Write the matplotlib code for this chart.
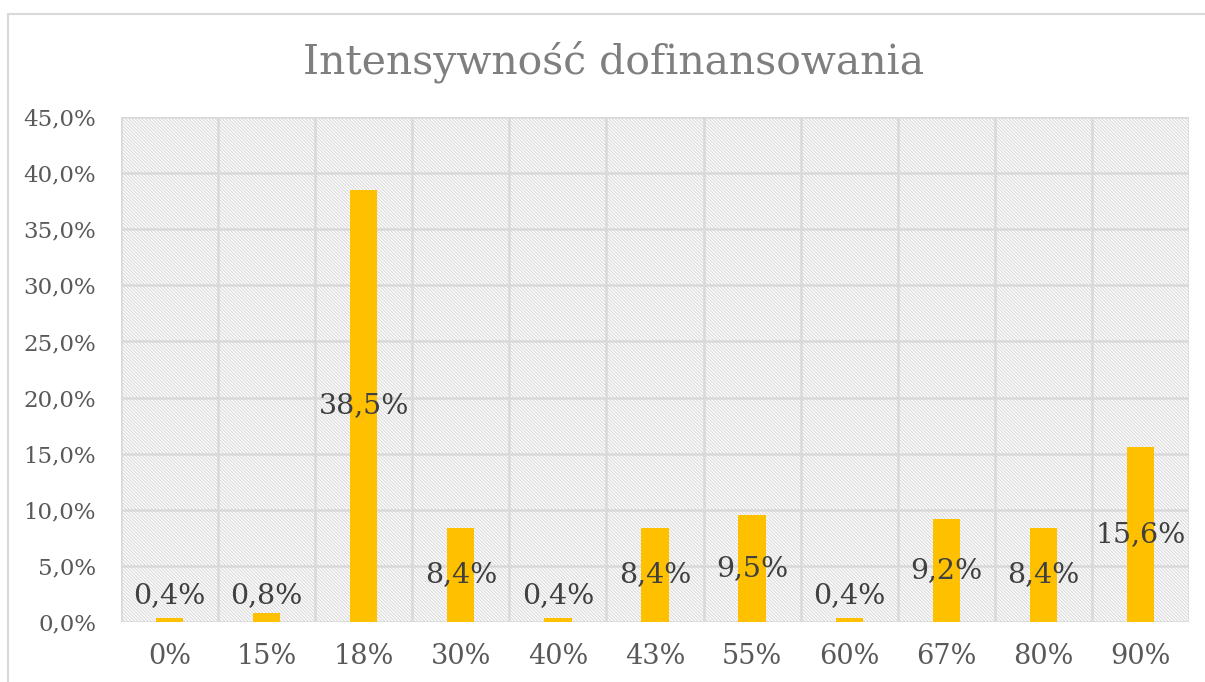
import matplotlib.pyplot as plt
import matplotlib.patches as mpatches
import numpy as np

categories = ['0%', '15%', '18%', '30%', '40%', '43%', '55%', '60%', '67%', '80%', '90%']
values = [0.4, 0.8, 38.5, 8.4, 0.4, 8.4, 9.5, 0.4, 9.2, 8.4, 15.6]
yticks = [0, 5, 10, 15, 20, 25, 30, 35, 40, 45]

plt.rcParams['font.family'] = 'DejaVu Serif'
plt.rcParams['hatch.linewidth'] = 0.8
plt.rcParams['hatch.color'] = '#DADADA'

fig = plt.figure(figsize=(12.05, 6.82), dpi=100)

# outer chart border
fig.patches.append(mpatches.Rectangle((8 / 1205, -0.1), 1.1, (682 - 14) / 682 + 0.1,
                                      transform=fig.transFigure, fill=False,
                                      edgecolor='#D9D9D9', linewidth=1.5))

ax = fig.add_axes([121 / 1205, 60 / 682, 1068 / 1205, 505 / 682])
x = np.arange(len(categories))

# hatched plot area
ax.add_patch(mpatches.Rectangle((0, 0), 1, 1, transform=ax.transAxes, facecolor='white',
                                edgecolor='#DADADA', hatch='\\' * 10, linewidth=0, zorder=0))

ax.bar(x, values, width=0.28, color='#FFC000', zorder=3)

ax.set_xlim(-0.5, len(categories) - 0.5)
ax.set_ylim(0, 45)
ax.set_yticks(yticks)
ax.set_yticklabels([f'{t:.1f}%'.replace('.', ',') for t in yticks])
ax.set_xticks(x)
ax.set_xticklabels(categories)

# grid lines
for t in yticks:
    ax.axhline(t, color='#D9D9D9', linewidth=1.8, zorder=1)
for b in np.arange(-0.5, len(categories), 1.0):
    ax.axvline(b, color='#D9D9D9', linewidth=1.8, zorder=1)

for s in ax.spines.values():
    s.set_visible(False)
ax.tick_params(length=0, labelcolor='#595959')
ax.tick_params(axis='x', pad=15, labelsize=19.5)
ax.tick_params(axis='y', pad=18, labelsize=16.5)

for xi, v in zip(x, values):
    ax.text(xi, max(v / 2, 2.4), f'{v:.1f}%'.replace('.', ','), ha='center', va='center',
            fontsize=20.5, color='#404040', zorder=4)

fig.text(614 / 1205, 1 - 62 / 682, 'Intensywność dofinansowania', ha='center', va='center',
         fontsize=29.5, color='#7F7F7F')

fig.savefig('out.png', dpi=100)
